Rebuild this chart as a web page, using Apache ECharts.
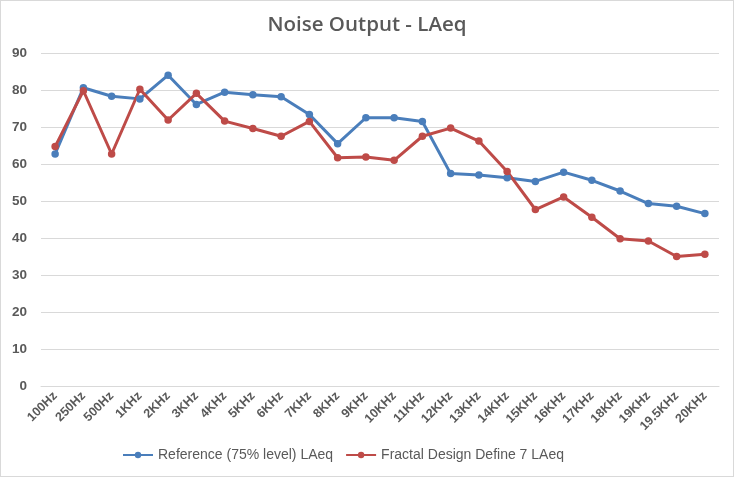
<!DOCTYPE html>
<html><head><meta charset="utf-8">
<script src="https://cdn.jsdelivr.net/npm/echarts@6/dist/echarts.min.js"></script>
<style>html,body{margin:0;padding:0;background:#fff}#c{width:734px;height:477px;box-sizing:border-box;border:1px solid #d9d9d9}</style>
</head><body><div id="c"></div>
<script>
const categories = ['100Hz','250Hz','500Hz','1KHz','2KHz','3KHz','4KHz','5KHz','6KHz','7KHz','8KHz','9KHz','10KHz','11KHz','12KHz','13KHz','14KHz','15KHz','16KHz','17KHz','18KHz','19KHz','19.5KHz','20KHz'];
const referenceLAeq = [62.7,80.6,78.3,77.6,84.0,76.1,79.4,78.7,78.2,73.4,65.5,72.5,72.5,71.5,57.4,57.0,56.3,55.3,57.8,55.6,52.7,49.3,48.6,46.6];
const fractalLAeq = [64.7,79.8,62.7,80.2,71.9,79.1,71.6,69.6,67.5,71.5,61.7,61.9,61.0,67.5,69.7,66.2,58.0,47.7,51.1,45.6,39.8,39.2,35.0,35.6];
const seriesNames = ['Reference (75% level) LAeq','Fractal Design Define 7 LAeq'];
const yTicks = {min:0, max:90, interval:10};

const font = "'Liberation Sans',sans-serif";
const chart = echarts.init(document.getElementById('c'));
chart.setOption({
  animation:false,
  title:{text:'Noise Output - LAeq',left:'center',top:9,textStyle:{fontFamily:"'Open Sans',sans-serif",fontSize:20.5,fontWeight:600,color:'#595959'}},
  grid:{left:40,right:14,top:52,bottom:90},
  legend:{bottom:9,left:116,itemWidth:30,itemHeight:8,itemGap:12,textStyle:{fontFamily:font,fontSize:14,color:'#595959'},
    data:seriesNames},
  xAxis:{type:'category',data:categories,boundaryGap:true,
    axisLine:{lineStyle:{color:'#d9d9d9'}},axisTick:{show:false},
    axisLabel:{rotate:45,interval:0,fontFamily:font,fontSize:12.5,fontWeight:'bold',color:'#595959',margin:8}},
  yAxis:{type:'value',min:yTicks.min,max:yTicks.max,interval:yTicks.interval,
    axisLine:{show:false},axisTick:{show:false},
    splitLine:{lineStyle:{color:'#d9d9d9'}},
    axisLabel:{fontFamily:font,fontSize:13.5,fontWeight:'bold',color:'#595959',margin:14}},
  series:[
    {name:seriesNames[0],type:'line',data:referenceLAeq,symbol:'circle',symbolSize:7.5,
     lineStyle:{width:3,color:'#4a7ebb'},itemStyle:{color:'#4a7ebb'}},
    {name:seriesNames[1],type:'line',data:fractalLAeq,symbol:'circle',symbolSize:7.5,
     lineStyle:{width:3,color:'#be4b48'},itemStyle:{color:'#be4b48'}}
  ]
});
</script></body></html>
